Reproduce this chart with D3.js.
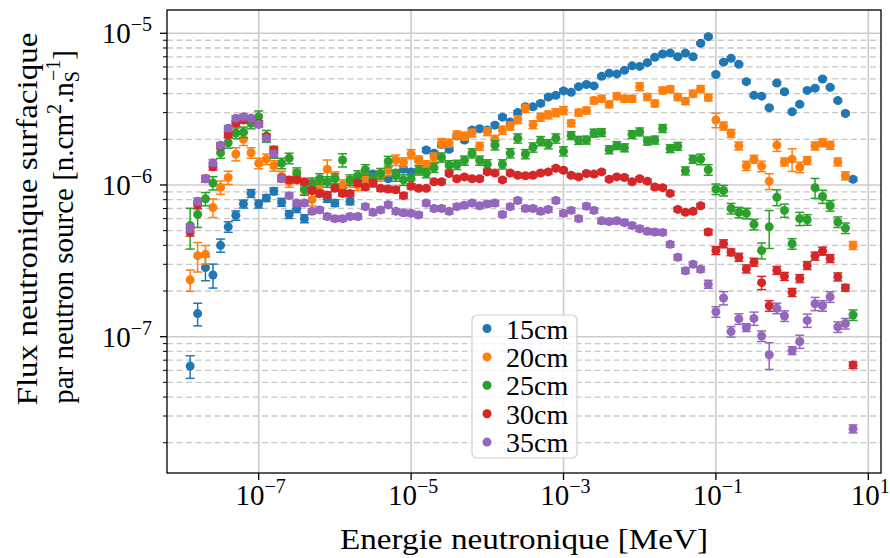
<!DOCTYPE html>
<html>
<head>
<meta charset="utf-8">
<script src="https://cdn.jsdelivr.net/npm/d3@7"></script>
<style>
body { margin: 0; background: #fff; }
text { font-family: "Liberation Serif", "DejaVu Serif", serif; fill: #000; }
</style>
</head>
<body>
<script>
var width = 890,
    height = 558;

// energy bins [MeV]
var energies = [
  1.26e-8, 1.58e-8, 2.00e-8, 2.51e-8, 3.16e-8, 3.98e-8, 5.01e-8, 6.31e-8, 7.94e-8, 1e-7,
  1.26e-7, 1.58e-7, 2.00e-7, 2.51e-7, 3.16e-7, 3.98e-7, 5.01e-7, 6.31e-7, 7.94e-7, 1e-6,
  1.26e-6, 1.58e-6, 2.00e-6, 2.51e-6, 3.16e-6, 3.98e-6, 5.01e-6, 6.31e-6, 7.94e-6, 1e-5,
  1.26e-5, 1.58e-5, 2.00e-5, 2.51e-5, 3.16e-5, 3.98e-5, 5.01e-5, 6.31e-5, 7.94e-5, 1e-4,
  1.26e-4, 1.58e-4, 2.00e-4, 2.51e-4, 3.16e-4, 3.98e-4, 5.01e-4, 6.31e-4, 7.94e-4, 1e-3,
  1.26e-3, 1.58e-3, 2.00e-3, 2.51e-3, 3.16e-3, 3.98e-3, 5.01e-3, 6.31e-3, 7.94e-3, 1e-2,
  1.26e-2, 1.58e-2, 2.00e-2, 2.51e-2, 3.16e-2, 3.98e-2, 5.01e-2, 6.31e-2, 7.94e-2, 1e-1,
  0.126, 0.158, 0.200, 0.251, 0.316, 0.398, 0.501, 0.631, 0.794, 1,
  1.26, 1.58, 2.00, 2.51, 3.16, 3.98, 5.01, 6.31
];

var flux15 = [
  6.4e-8, 1.42e-7, 2.85e-7, 2.55e-7, 4.0e-7, 5.3e-7, 6.3e-7, 7.5e-7, 8.8e-7, 7.5e-7,
  8.2e-7, 9.1e-7, 7.7e-7, 6.4e-7, 7.0e-7, 6.0e-7, 9.5e-7, 8.8e-7, 8.1e-7, 7.6e-7,
  9.0e-7, 7.8e-7, 1.05e-6, 1.15e-6, 1.18e-6, 1.15e-6, 1.1e-6, 1.2e-6, 1.27e-6, 1.22e-6,
  1.46e-6, 1.7e-6, 1.62e-6, 1.85e-6, 1.72e-6, 2.1e-6, 1.98e-6, 2.3e-6, 2.35e-6, 2.3e-6,
  2.48e-6, 2.8e-6, 2.6e-6, 3.0e-6, 3.28e-6, 3.28e-6, 3.45e-6, 3.8e-6, 3.9e-6, 4.17e-6,
  4.08e-6, 4.45e-6, 4.6e-6, 4.5e-6, 5.2e-6, 5.45e-6, 5.4e-6, 5.7e-6, 6.1e-6, 6.05e-6,
  6.4e-6, 6.95e-6, 7.3e-6, 7.4e-6, 7.0e-6, 7.4e-6, 7.0e-6, 8.6e-6, 9.5e-6, 5.35e-6,
  6.45e-6, 6.85e-6, 6.25e-6, 4.8e-6, 3.9e-6, 3.85e-6, 3.23e-6, 4.7e-6, 4.12e-6, 3.04e-6,
  3.4e-6, 4.2e-6, 4.35e-6, 5.0e-6, 4.4e-6, 3.6e-6, 2.96e-6, 1.09e-6
];
var flux20 = [
  2.37e-7, 3.42e-7, 3.5e-7, 7.1e-7, 9.65e-7, 1.12e-6, 1.6e-6, 2.0e-6, 1.63e-6, 1.39e-6,
  1.48e-6, 1.34e-6, 1.14e-6, 1.05e-6, 1.15e-6, 9.5e-7, 8.0e-7, 1.0e-6, 1.27e-6, 1.12e-6,
  1.0e-6, 1.05e-6, 1.0e-6, 1.1e-6, 1.05e-6, 1.15e-6, 1.25e-6, 1.46e-6, 1.41e-6, 1.6e-6,
  1.45e-6, 1.35e-6, 1.52e-6, 1.89e-6, 1.89e-6, 2.14e-6, 2.1e-6, 2.2e-6, 1.8e-6, 2.25e-6,
  2.0e-6, 2.3e-6, 2.45e-6, 2.7e-6, 3.2e-6, 2.5e-6, 2.8e-6, 2.9e-6, 3.0e-6, 3.1e-6,
  2.55e-6, 3.0e-6, 3.1e-6, 3.6e-6, 3.7e-6, 3.4e-6, 3.85e-6, 3.7e-6, 3.7e-6, 4.45e-6,
  3.8e-6, 3.45e-6, 4.2e-6, 4.28e-6, 3.8e-6, 3.57e-6, 4.0e-6, 4.3e-6, 3.77e-6, 2.68e-6,
  2.45e-6, 2.19e-6, 1.81e-6, 1.34e-6, 1.48e-6, 1.33e-6, 1.06e-6, 1.83e-6, 1.42e-6, 1.48e-6,
  1.31e-6, 1.45e-6, 1.81e-6, 1.9e-6, 1.83e-6, 1.42e-6, 1.15e-6, 4.0e-7
];
var flux25 = [
  5.4e-7, 6.4e-7, 8.1e-7, 1.03e-6, 1.63e-6, 1.9e-6, 2.2e-6, 2.23e-6, 2.55e-6, 2.82e-6,
  2.1e-6, 1.65e-6, 1.39e-6, 1.5e-6, 1.2e-6, 9.3e-7, 1.03e-6, 1.1e-6, 1.05e-6, 1.1e-6,
  1.46e-6, 1.08e-6, 1.15e-6, 1.26e-6, 1.1e-6, 1.19e-6, 1.43e-6, 1.15e-6, 1.08e-6, 1.1e-6,
  1.25e-6, 1.2e-6, 1.3e-6, 1.52e-6, 1.35e-6, 1.36e-6, 1.45e-6, 1.62e-6, 1.45e-6, 1.37e-6,
  1.83e-6, 1.37e-6, 1.62e-6, 2.03e-6, 1.6e-6, 1.77e-6, 1.95e-6, 1.86e-6, 2.03e-6, 1.67e-6,
  2.12e-6, 1.97e-6, 1.98e-6, 2.2e-6, 2.22e-6, 1.71e-6, 1.82e-6, 1.76e-6, 2.15e-6, 2.24e-6,
  1.95e-6, 1.98e-6, 2.36e-6, 1.74e-6, 1.8e-6, 1.24e-6, 1.48e-6, 1.48e-6, 1.26e-6, 9.4e-7,
  9.2e-7, 7.0e-7, 6.6e-7, 6.5e-7, 5.5e-7, 3.7e-7, 5.3e-7, 8.3e-7, 6.8e-7, 4.1e-7,
  6.0e-7, 5.9e-7, 9.6e-7, 8.4e-7, 7.3e-7, 5.7e-7, 5.2e-7, 1.39e-7
];
var flux30 = [
  4.9e-7, 7.4e-7, 1.1e-6, 1.32e-6, 1.8e-6, 2.14e-6, 2.55e-6, 2.68e-6, 2.75e-6, 2.55e-6,
  2.08e-6, 1.7e-6, 1.11e-6, 1.08e-6, 1.08e-6, 1.05e-6, 9.2e-7, 8.8e-7, 8.6e-7, 9.5e-7,
  8.8e-7, 8.8e-7, 1.03e-6, 9.7e-7, 1.03e-6, 9.5e-7, 9.4e-7, 9.3e-7, 8.5e-7, 9.8e-7,
  9.5e-7, 9.5e-7, 1.05e-6, 1.05e-6, 1.19e-6, 1.1e-6, 1.13e-6, 1.1e-6, 1.1e-6, 1.22e-6,
  1.2e-6, 1.08e-6, 1.2e-6, 1.16e-6, 1.15e-6, 1.16e-6, 1.2e-6, 1.22e-6, 1.29e-6, 1.25e-6,
  1.16e-6, 1.13e-6, 1.19e-6, 1.18e-6, 1.22e-6, 1.09e-6, 1.13e-6, 1.12e-6, 1.05e-6, 1.1e-6,
  1.06e-6, 9.7e-7, 9.6e-7, 8.8e-7, 6.9e-7, 6.6e-7, 6.7e-7, 7.3e-7, 4.9e-7, 3.7e-7,
  4.1e-7, 3.6e-7, 3.34e-7, 2.8e-7, 3.1e-7, 2.27e-7, 1.6e-7, 2.74e-7, 2.5e-7, 1.96e-7,
  2.42e-7, 2.95e-7, 3.4e-7, 3.67e-7, 3.28e-7, 2.48e-7, 2.1e-7, 6.5e-8
];
var flux35 = [
  5.2e-7, 7.8e-7, 1.1e-6, 1.4e-6, 1.83e-6, 2.37e-6, 2.75e-6, 2.82e-6, 2.75e-6, 2.5e-6,
  2.03e-6, 1.6e-6, 1.1e-6, 8.5e-7, 7.6e-7, 7.6e-7, 6.7e-7, 6.85e-7, 6.2e-7, 6.0e-7,
  6.0e-7, 6.2e-7, 6.2e-7, 7.2e-7, 6.6e-7, 6.85e-7, 7.4e-7, 6.7e-7, 6.55e-7, 6.5e-7,
  6.35e-7, 7.6e-7, 7.0e-7, 7.0e-7, 6.7e-7, 7.2e-7, 7.35e-7, 7.6e-7, 7.3e-7, 7.5e-7,
  7.6e-7, 6.4e-7, 7.2e-7, 7.9e-7, 7.0e-7, 7.0e-7, 6.7e-7, 6.9e-7, 7.9e-7, 6.5e-7,
  6.8e-7, 6.0e-7, 7.25e-7, 6.8e-7, 5.8e-7, 5.75e-7, 5.8e-7, 5.65e-7, 5.4e-7, 5.15e-7,
  4.95e-7, 4.9e-7, 4.87e-7, 4.06e-7, 3.34e-7, 2.72e-7, 3.0e-7, 2.78e-7, 2.22e-7, 1.46e-7,
  1.8e-7, 1.08e-7, 1.31e-7, 1.15e-7, 1.32e-7, 1.01e-7, 7.6e-8, 1.54e-7, 1.37e-7, 8.1e-8,
  9.3e-8, 1.28e-7, 1.65e-7, 1.6e-7, 1.83e-7, 1.16e-7, 1.22e-7, 2.47e-8
];

// relative uncertainty [%]
var err15 = [17,17,18,18,10,8,7,6,6,6, 5,5,6,6,6,6,6,5,5,5, 5,5,5,5,4,4,4,4,4,4,
  3,3,3,3,3,3,3,3,3,3, 3,3,3,3,3,3,3,3,3,3, 2,2,2,2,2,2,2,2,2,2,
  2,2,2,2,2,2,2,2,2,2, 2,2,2,2,2,2,2,2,2,2, 2,2,2,2,2,2,2,3];
var err20 = [16,22,14,14,10,10,10,9,8,8, 8,8,8,8,9,9,9,8,15,9, 8,8,8,8,8,8,8,8,7,7,
  7,7,7,7,6,6,6,6,6,6, 6,6,6,6,6,6,6,6,6,6, 5,5,5,5,5,5,5,5,5,6,
  5,5,5,5,5,5,5,5,5,11, 6,6,6,7,6,8,12,9,6,17, 8,6,6,6,6,6,6,6];
var err25 = [30,18,10,10,8,8,8,8,8,9, 9,9,8,8,8,8,8,8,8,8, 10,8,8,8,8,8,8,8,8,8,
  7,7,7,7,7,7,7,7,7,7, 7,7,7,7,7,7,7,7,7,7, 6,6,6,6,6,6,6,6,6,6,
  6,6,6,6,6,6,6,8,8,8, 8,8,8,8,8,12,28,12,10,8, 10,8,15,10,8,8,8,8];
var err30 = [6,6,5,5,4,4,4,4,4,4, 4,4,4,4,4,4,4,4,4,4, 4,4,4,4,4,4,4,4,4,4,
  3,3,3,3,3,3,3,3,3,3, 3,3,3,3,3,3,3,3,3,3, 3,3,3,3,3,3,3,3,3,3,
  3,3,3,3,3,3,3,3,4,6, 6,5,6,6,6,10,8,6,6,6, 6,6,6,6,6,6,5,5];
var err35 = [6,5,5,5,4,4,4,4,4,4, 4,4,4,4,4,4,4,4,4,4, 4,4,4,4,4,4,4,4,4,4,
  4,4,4,4,4,4,4,4,4,4, 4,4,4,4,4,4,4,4,4,4, 4,4,4,4,4,4,4,4,4,4,
  4,4,4,4,4,4,4,4,6,8, 10,8,8,6,10,8,20,8,8,6, 10,10,10,8,8,8,8,6];

var labels = ["15cm", "20cm", "25cm", "30cm", "35cm"];
var colors = ["#1f77b4", "#ff7f0e", "#2ca02c", "#d62728", "#9467bd"];
var xTicks = [1e-7, 1e-5, 1e-3, 1e-1, 1e1];
var xTickExp = ["\u22127", "\u22125", "\u22123", "\u22121", "1"];
var yTicks = [1e-7, 1e-6, 1e-5];
var yTickExp = ["\u22127", "\u22126", "\u22125"];

var pLeft = 167, pRight = 881, pTop = 10, pBottom = 473;

var x = d3.scaleLog().domain([6.26e-9, 14.68]).range([pLeft, pRight]);
var y = d3.scaleLog().domain([1.263e-8, 1.424e-5]).range([pBottom, pTop]);

var svg = d3.select("body").append("svg")
    .attr("width", width)
    .attr("height", height);

svg.append("defs").append("clipPath").attr("id", "clip")
  .append("rect")
    .attr("x", pLeft).attr("y", pTop)
    .attr("width", pRight - pLeft).attr("height", pBottom - pTop);

// grid
var yMinor = y.ticks().filter(function(d) {
  return Math.abs(Math.log10(d) - Math.round(Math.log10(d))) > 1e-6;
});

svg.append("g").selectAll("line")
    .data(yMinor)
  .enter().append("line")
    .attr("x1", pLeft).attr("x2", pRight)
    .attr("y1", function(d) { return y(d); })
    .attr("y2", function(d) { return y(d); })
    .attr("stroke", "#c8c8c8")
    .attr("stroke-width", 1.3)
    .attr("stroke-dasharray", "6,3.5");

svg.append("g").selectAll("line")
    .data(yTicks)
  .enter().append("line")
    .attr("x1", pLeft).attr("x2", pRight)
    .attr("y1", function(d) { return y(d); })
    .attr("y2", function(d) { return y(d); })
    .attr("stroke", "#cccccc")
    .attr("stroke-width", 1.6);

svg.append("g").selectAll("line")
    .data(xTicks)
  .enter().append("line")
    .attr("y1", pTop).attr("y2", pBottom)
    .attr("x1", function(d) { return x(d); })
    .attr("x2", function(d) { return x(d); })
    .attr("stroke", "#cccccc")
    .attr("stroke-width", 1.6);

// data
var series = [flux15, flux20, flux25, flux30, flux35];
var errors = [err15, err20, err25, err30, err35];

var plot = svg.append("g").attr("clip-path", "url(#clip)");

series.forEach(function(vals, s) {
  var pts = vals.map(function(v, i) {
    return {e: energies[i], v: v, lo: v * (1 - errors[s][i] / 100), hi: v * (1 + errors[s][i] / 100)};
  });
  var g = plot.append("g")
      .attr("stroke", colors[s])
      .attr("fill", colors[s]);

  g.selectAll(".bar")
      .data(pts)
    .enter().append("line")
      .attr("x1", function(d) { return x(d.e); })
      .attr("x2", function(d) { return x(d.e); })
      .attr("y1", function(d) { return y(d.lo); })
      .attr("y2", function(d) { return y(d.hi); })
      .attr("stroke-width", 1.5);

  ["lo", "hi"].forEach(function(k) {
    g.selectAll(".cap-" + k)
        .data(pts)
      .enter().append("line")
        .attr("x1", function(d) { return x(d.e) - 4.5; })
        .attr("x2", function(d) { return x(d.e) + 4.5; })
        .attr("y1", function(d) { return y(d[k]); })
        .attr("y2", function(d) { return y(d[k]); })
        .attr("stroke-width", 1.5);
  });

  g.selectAll("circle")
      .data(pts)
    .enter().append("circle")
      .attr("cx", function(d) { return x(d.e); })
      .attr("cy", function(d) { return y(d.v); })
      .attr("r", 4.5)
      .attr("stroke", "none");
});

// frame
svg.append("rect")
    .attr("x", pLeft).attr("y", pTop)
    .attr("width", pRight - pLeft).attr("height", pBottom - pTop)
    .attr("fill", "none")
    .attr("stroke", "#000")
    .attr("stroke-width", 1.3);

// ticks
svg.append("g").selectAll("line")
    .data(yMinor)
  .enter().append("line")
    .attr("x1", pLeft - 4).attr("x2", pLeft)
    .attr("y1", function(d) { return y(d); })
    .attr("y2", function(d) { return y(d); })
    .attr("stroke", "#000").attr("stroke-width", 1);

svg.append("g").selectAll("line")
    .data(yTicks)
  .enter().append("line")
    .attr("x1", pLeft - 7).attr("x2", pLeft)
    .attr("y1", function(d) { return y(d); })
    .attr("y2", function(d) { return y(d); })
    .attr("stroke", "#000").attr("stroke-width", 1.3);

svg.append("g").selectAll("line")
    .data(xTicks)
  .enter().append("line")
    .attr("y1", pBottom).attr("y2", pBottom + 7)
    .attr("x1", function(d) { return x(d); })
    .attr("x2", function(d) { return x(d); })
    .attr("stroke", "#000").attr("stroke-width", 1.3);

function powLabel(sel, exp) {
  sel.append("tspan").text("10");
  sel.append("tspan")
      .attr("dy", -12)
      .attr("font-size", 20)
      .text(exp);
}

svg.append("g").selectAll("text")
    .data(yTicks)
  .enter().append("text")
    .attr("x", 152)
    .attr("y", function(d) { return y(d) + 10; })
    .attr("text-anchor", "end")
    .attr("font-size", 29)
    .each(function(d, i) { powLabel(d3.select(this), yTickExp[i]); });

svg.append("g").selectAll("text")
    .data(xTicks)
  .enter().append("text")
    .attr("x", function(d) { return x(d) + 2; })
    .attr("y", 505)
    .attr("text-anchor", "middle")
    .attr("font-size", 29)
    .each(function(d, i) { powLabel(d3.select(this), xTickExp[i]); });

// axis labels
svg.append("text")
    .attr("x", (pLeft + pRight) / 2)
    .attr("y", 549)
    .attr("text-anchor", "middle")
    .attr("font-size", 29)
    .attr("textLength", 368)
    .attr("lengthAdjust", "spacingAndGlyphs")
    .text("Energie neutronique [MeV]");

svg.append("text")
    .attr("transform", "translate(37,219) rotate(-90)")
    .attr("text-anchor", "middle")
    .attr("font-size", 29)
    .attr("textLength", 373)
    .attr("lengthAdjust", "spacingAndGlyphs")
    .text("Flux neutronique surfacique");

var yl2 = svg.append("text")
    .attr("transform", "translate(73,227) rotate(-90)")
    .attr("text-anchor", "middle")
    .attr("font-size", 29);
yl2.append("tspan").text("par neutron source [n.cm");
yl2.append("tspan").attr("dy", -12).attr("font-size", 20).text("2");
yl2.append("tspan").attr("dy", 12).text(".n");
yl2.append("tspan").attr("dy", 6).attr("font-size", 20).text("S");
yl2.append("tspan").attr("dy", -19).attr("dx", -10).attr("font-size", 20).text("\u22121");
yl2.append("tspan").attr("dy", 13).text("]");

// legend
var legend = svg.append("g");
legend.append("rect")
    .attr("x", 472).attr("y", 315)
    .attr("width", 105).attr("height", 143)
    .attr("rx", 5)
    .attr("fill", "#fff").attr("fill-opacity", 0.8)
    .attr("stroke", "#d0d0d0").attr("stroke-width", 1.2);

var item = legend.selectAll(".item")
    .data(labels)
  .enter().append("g")
    .attr("transform", function(d, i) { return "translate(0," + (328.5 + i * 28.4) + ")"; });

item.append("circle")
    .attr("cx", 487).attr("cy", 0).attr("r", 4.5)
    .attr("fill", function(d, i) { return colors[i]; });

item.append("text")
    .attr("x", 506).attr("y", 10)
    .attr("font-size", 28)
    .text(function(d) { return d; });
</script>
</body>
</html>
